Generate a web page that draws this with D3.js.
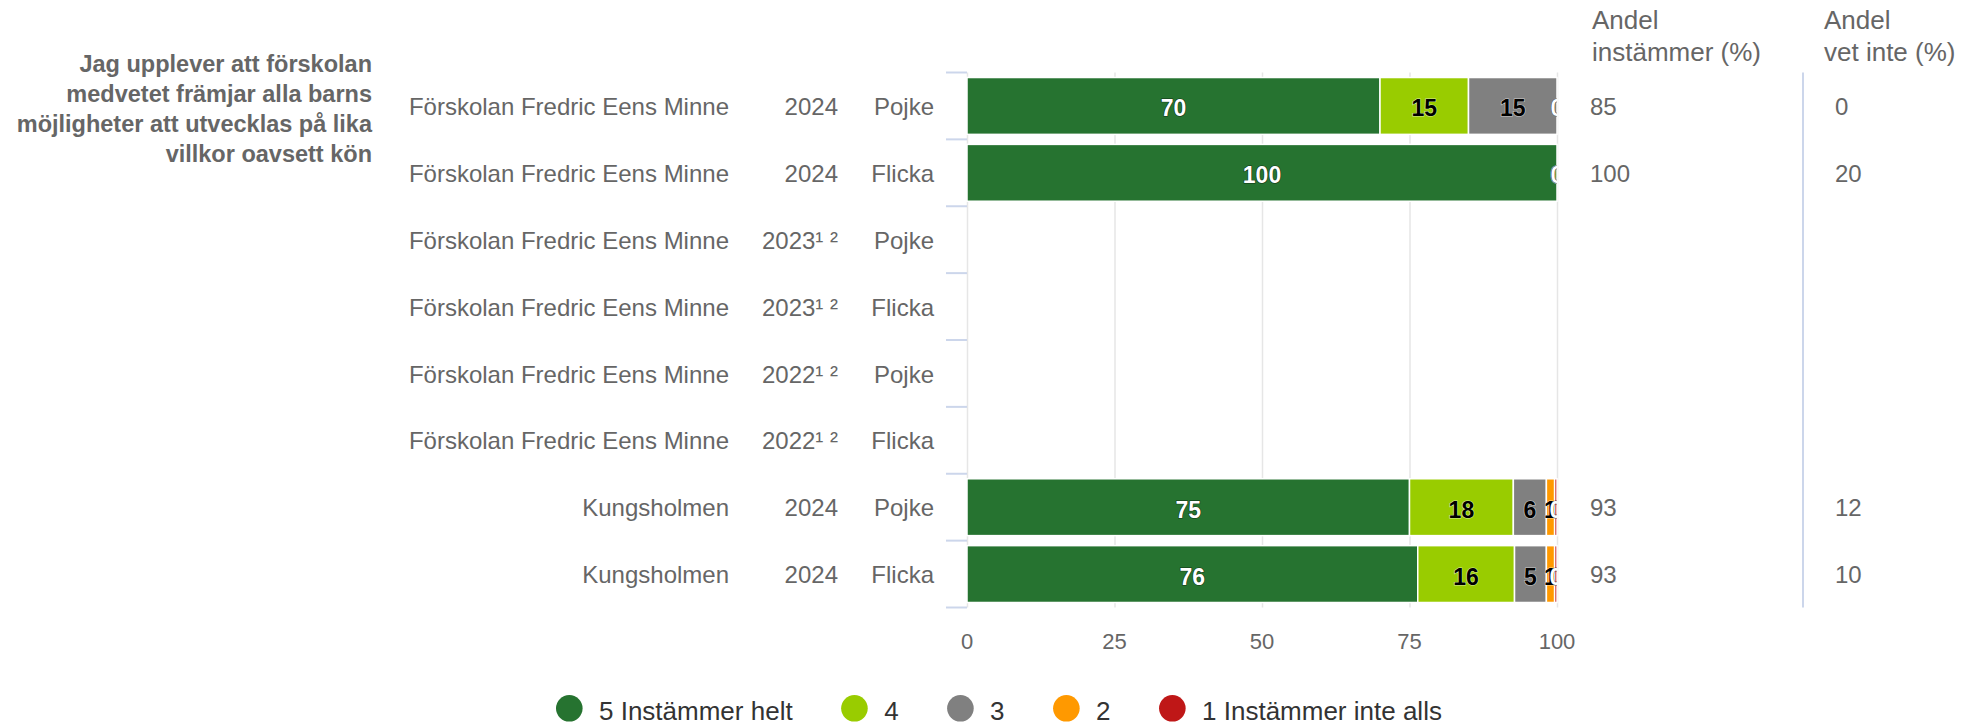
<!DOCTYPE html>
<html>
<head>
<meta charset="utf-8">
<script src="https://cdn.jsdelivr.net/npm/d3@7"></script>
<style>
    body { margin: 0; background: #fff; }
    svg { display: block; font-family: "Liberation Sans", Arial, sans-serif; }
</style>
</head>
<body>
<svg id="chart" width="1967" height="727"></svg>
<script>
'use strict';

var question = ['Jag upplever att förskolan', 'medvetet främjar alla barns', 'möjligheter att utvecklas på lika', 'villkor oavsett kön'];

var schools = [
    'Förskolan Fredric Eens Minne', 'Förskolan Fredric Eens Minne',
    'Förskolan Fredric Eens Minne', 'Förskolan Fredric Eens Minne',
    'Förskolan Fredric Eens Minne', 'Förskolan Fredric Eens Minne',
    'Kungsholmen', 'Kungsholmen'
];
var years = ['2024', '2024', '2023\u00b9 \u00b2', '2023\u00b9 \u00b2', '2022\u00b9 \u00b2', '2022\u00b9 \u00b2', '2024', '2024'];
var genders = ['Pojke', 'Flicka', 'Pojke', 'Flicka', 'Pojke', 'Flicka', 'Pojke', 'Flicka'];

var seriesNames = ['5 Instämmer helt', '4', '3', '2', '1 Instämmer inte alls'];
var seriesColors = ['#267330', '#99cc00', '#808080', '#ff9900', '#bf1717'];
var labelColors = ['#ffffff', '#000000', '#000000', '#000000', '#ffffff'];

var values5 = [70, 100, null, null, null, null, 75.0, 76.4];
var values4 = [15, 0, null, null, null, null, 17.6, 16.4];
var values3 = [15, 0, null, null, null, null, 5.6, 5.4];
var values2 = [0, 0, null, null, null, null, 1.4, 1.4];
var values1 = [0, 0, null, null, null, null, 0.4, 0.4];

var andelInstammer = [85, 100, null, null, null, null, 93, 93];
var andelVetInte = [0, 20, null, null, null, null, 12, 10];

var xTicks = [0, 25, 50, 75, 100];

function draw () {
    var svg = d3.select('#chart');
    var plot = { left: 967, right: 1557, top: 72.5, bottom: 607.5 };

    var x = d3.scaleLinear().domain([0, 100]).range([plot.left, plot.right]);
    var y = d3.scaleBand()
        .domain(d3.range(schools.length))
        .range([plot.top, plot.bottom])
        .paddingInner(0.15)
        .paddingOuter(0.075);
    var step = y.step();

    // stack rows
    var allSeries = [values5, values4, values3, values2, values1];
    var segments = [];
    schools.forEach(function (s, row) {
        var start = 0;
        allSeries.forEach(function (vals, k) {
            var v = vals[row];
            if (v === null) {
                return;
            }
            segments.push({ row: row, k: k, x0: start, x1: start + v, value: v });
            start += v;
        });
    });

    svg.append('defs').append('clipPath')
        .attr('id', 'plot-clip')
        .append('rect')
        .attr('x', plot.left)
        .attr('y', plot.top)
        .attr('width', plot.right - plot.left)
        .attr('height', plot.bottom - plot.top);

    // grid
    svg.append('g')
        .selectAll('line')
        .data(xTicks)
        .enter().append('line')
        .attr('x1', function (d) { return x(d) + 0.5; })
        .attr('x2', function (d) { return x(d) + 0.5; })
        .attr('y1', plot.top)
        .attr('y2', plot.bottom)
        .attr('stroke', '#e6e6e6')
        .attr('stroke-width', 1.5);

    // category ticks
    svg.append('g')
        .selectAll('line')
        .data(d3.range(schools.length + 1))
        .enter().append('line')
        .attr('x1', plot.left - 21)
        .attr('x2', plot.left)
        .attr('y1', function (i) { return plot.top + i * step; })
        .attr('y2', function (i) { return plot.top + i * step; })
        .attr('stroke', '#ccd6eb')
        .attr('stroke-width', 2);

    // x labels
    svg.append('g')
        .selectAll('text')
        .data(xTicks)
        .enter().append('text')
        .attr('x', function (d) { return x(d); })
        .attr('y', 649)
        .attr('text-anchor', 'middle')
        .attr('font-size', 22)
        .attr('fill', '#666666')
        .text(function (d) { return d; });

    // bars
    svg.append('g')
        .selectAll('rect')
        .data(segments.filter(function (d) { return d.value > 0; }))
        .enter().append('rect')
        .attr('x', function (d) { return x(d.x0); })
        .attr('y', function (d) { return y(d.row); })
        .attr('width', function (d) { return x(d.x1) - x(d.x0); })
        .attr('height', y.bandwidth())
        .attr('fill', function (d) { return seriesColors[d.k]; })
        .attr('stroke', '#ffffff')
        .attr('stroke-width', 1.5);

    // data labels
    svg.append('g')
        .attr('clip-path', 'url(#plot-clip)')
        .selectAll('text')
        .data(segments)
        .enter().append('text')
        .attr('x', function (d) { return x((d.x0 + d.x1) / 2); })
        .attr('y', function (d) { return y(d.row) + y.bandwidth() / 2 + 10.5; })
        .attr('text-anchor', 'middle')
        .attr('font-size', 23)
        .attr('font-weight', 'bold')
        .attr('fill', function (d) { return labelColors[d.k]; })
        .attr('stroke', function (d) { return labelColors[d.k] === '#ffffff' ? '#000000' : '#ffffff'; })
        .attr('stroke-width', 1.2)
        .attr('stroke-opacity', 0.6)
        .style('paint-order', 'stroke')
        .text(function (d) { return Math.round(d.value); });

    // row labels
    var rowCenter = function (i) { return plot.top + (i + 0.5) * step; };
    var rowText = function (data, xPos, anchor) {
        svg.append('g')
            .selectAll('text')
            .data(data)
            .enter().append('text')
            .attr('x', xPos)
            .attr('y', function (d, i) { return rowCenter(i); })
            .attr('dy', '0.38em')
            .attr('text-anchor', anchor)
            .attr('font-size', 24)
            .attr('fill', '#666666')
            .text(function (d) { return d === null ? '' : d; });
    };
    rowText(schools, 729, 'end');
    rowText(years, 838, 'end');
    rowText(genders, 934, 'end');
    rowText(andelInstammer, 1590, 'start');
    rowText(andelVetInte, 1835, 'start');

    // question title
    svg.append('g')
        .selectAll('text')
        .data(question)
        .enter().append('text')
        .attr('x', 372)
        .attr('y', function (d, i) { return 71.5 + i * 30.2; })
        .attr('text-anchor', 'end')
        .attr('font-size', 23.5)
        .attr('font-weight', 'bold')
        .attr('fill', '#666666')
        .text(function (d) { return d; });

    // column headers
    var headers = [
        { x: 1592, lines: ['Andel', 'instämmer (%)'] },
        { x: 1824, lines: ['Andel', 'vet inte (%)'] }
    ];
    headers.forEach(function (h) {
        svg.append('g')
            .selectAll('text')
            .data(h.lines)
            .enter().append('text')
            .attr('x', h.x)
            .attr('y', function (d, i) { return 28.5 + i * 32.8; })
            .attr('font-size', 26)
            .attr('fill', '#666666')
            .text(function (d) { return d; });
    });

    // divider
    svg.append('line')
        .attr('x1', 1803)
        .attr('x2', 1803)
        .attr('y1', plot.top)
        .attr('y2', plot.bottom)
        .attr('stroke', '#ccd6eb')
        .attr('stroke-width', 2);

    // legend
    var legend = svg.append('g');
    var cursor = 556;
    seriesNames.forEach(function (name, k) {
        legend.append('circle')
            .attr('cx', cursor + 13.3)
            .attr('cy', 708.3)
            .attr('r', 13.3)
            .attr('fill', seriesColors[k]);
        var label = legend.append('text')
            .attr('x', cursor + 43)
            .attr('y', 720)
            .attr('font-size', 26)
            .attr('fill', '#333333')
            .text(name);
        cursor += 43 + label.node().getComputedTextLength() + 48.5;
    });
}

draw();
</script>
</body>
</html>
